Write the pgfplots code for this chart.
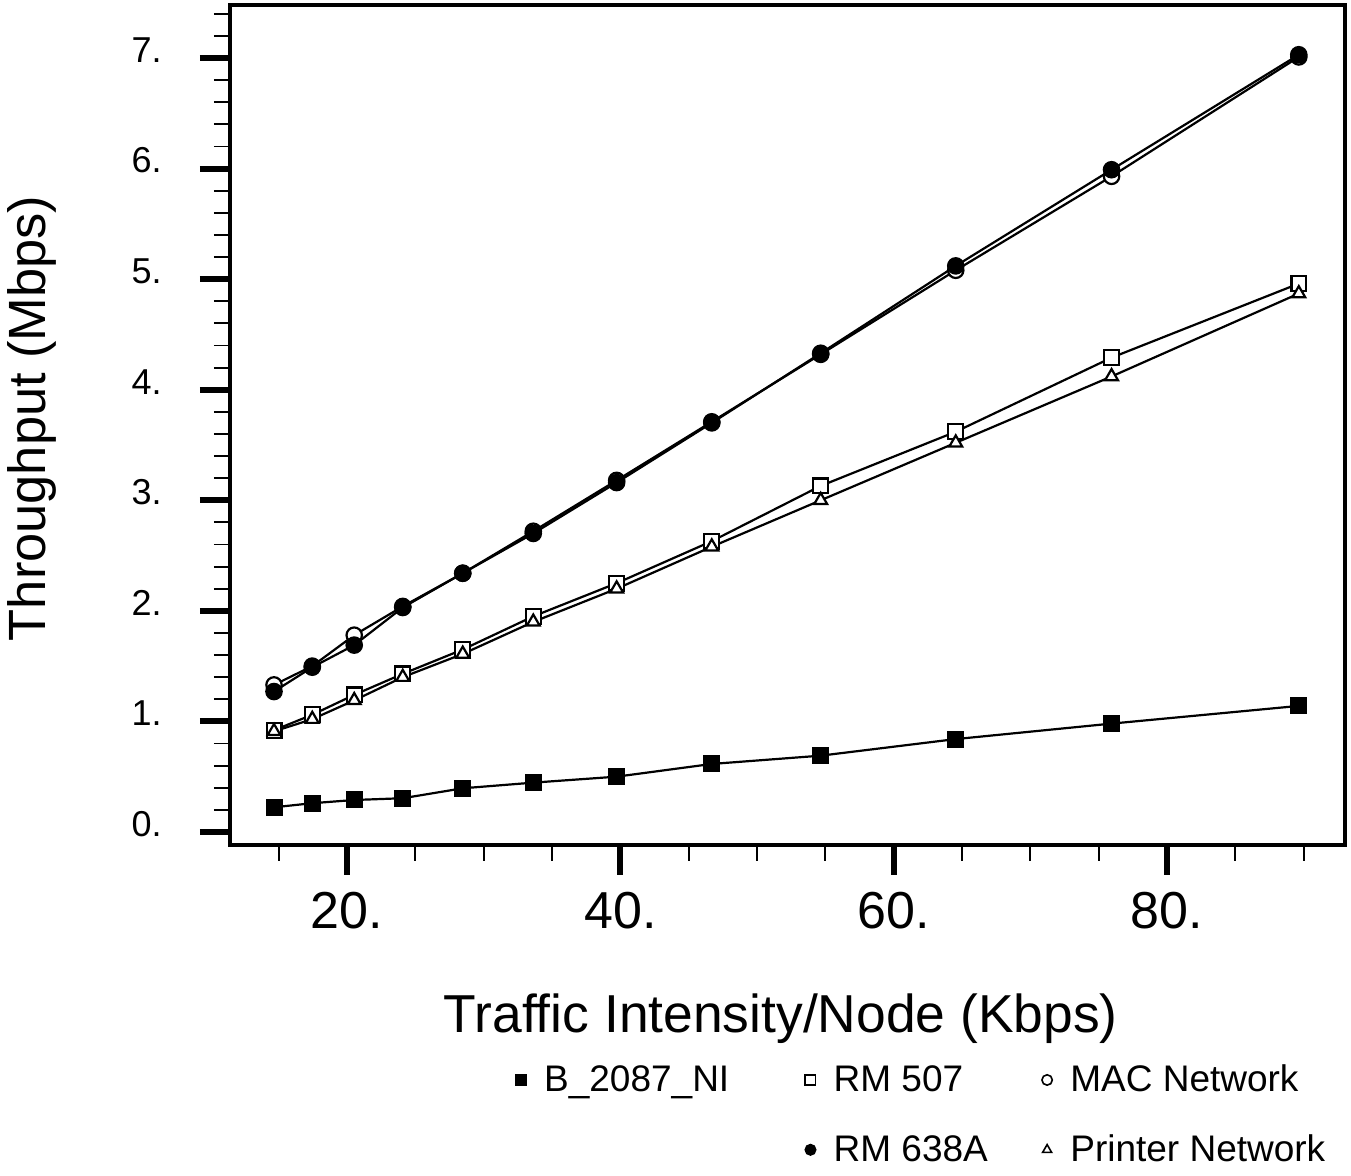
\documentclass[border=0pt]{standalone}
\usepackage{fontspec}
\setmainfont{Liberation Sans}
\usepackage{pgfplots}
\pgfplotsset{compat=1.18}

% Throughput measured at each node versus offered traffic intensity
\pgfplotstableread{
x      y
14.66  0.223
17.46  0.260
20.53  0.289
24.08  0.305
28.47  0.395
33.63  0.446
39.73  0.500
46.69  0.615
54.66  0.690
64.54  0.840
75.94  0.980
89.64  1.140
}\tblB

\pgfplotstableread{
x      y
14.66  0.92
17.46  1.06
20.53  1.24
24.08  1.43
28.47  1.65
33.63  1.95
39.73  2.25
46.69  2.63
54.66  3.13
64.54  3.62
75.94  4.29
89.64  4.96
}\tblRMfive

\pgfplotstableread{
x      y
14.66  1.33
17.46  1.50
20.53  1.78
24.08  2.04
28.47  2.34
33.63  2.72
39.73  3.18
46.69  3.71
54.66  4.32
64.54  5.08
75.94  5.93
89.64  7.01
}\tblMAC

\pgfplotstableread{
x      y
14.66  1.27
17.46  1.49
20.53  1.69
24.08  2.03
28.47  2.34
33.63  2.70
39.73  3.16
46.69  3.70
54.66  4.33
64.54  5.12
75.94  5.99
89.64  7.03
}\tblRMsix

\pgfplotstableread{
x      y
14.66  0.91
17.46  1.02
20.53  1.19
24.08  1.40
28.47  1.61
33.63  1.90
39.73  2.20
46.69  2.58
54.66  3.00
64.54  3.52
75.94  4.12
89.64  4.87
}\tblPrinter

\begin{document}
\begin{tikzpicture}
\useasboundingbox (-115pt,-165.5pt) rectangle (560.5pt,422.5pt);
\begin{axis}[
  at={(0pt,0pt)}, anchor=south west,
  scale only axis,
  width=557.5pt, height=420pt,
  xmin=11.44, xmax=93.02,
  ymin=-0.118, ymax=7.48,
  axis line style={line width=1.6pt},
  tick align=outside,
  xtick pos=bottom, ytick pos=left,
  xtick={20,40,60,80},
  xticklabels={20.,40.,60.,80.},
  minor xtick={15,25,30,35,45,50,55,65,70,75,85,90},
  ytick={0,1,2,3,4,5,6,7},
  yticklabels={0.,1.,2.,3.,4.,5.,6.,7.},
  minor ytick={0.2,0.4,0.6,0.8,1.2,1.4,1.6,1.8,2.2,2.4,2.6,2.8,3.2,3.4,3.6,3.8,4.2,4.4,4.6,4.8,5.2,5.4,5.6,5.8,6.2,6.4,6.6,6.8,7.2,7.4},
  major tick length=15pt,
  minor tick length=8pt,
  major tick style={line width=3pt, draw=black},
  minor tick style={line width=0.9pt, draw=black},
  xticklabel style={font=\fontsize{26}{30}\selectfont, inner sep=0pt, anchor=north, yshift=-8.5pt},
  yticklabel style={font=\fontsize{18}{20}\selectfont, inner sep=0pt, anchor=east, xshift=-19pt, yshift=4pt},
  xlabel={Traffic Intensity/Node (Kbps)},
  ylabel={Throughput (Mbps)},
  xlabel style={font=\fontsize{26.7}{30}\selectfont, at={(axis description cs:0.494,-0.2238)}, anchor=base},
  ylabel style={font=\fontsize{26.2}{30}\selectfont, at={(axis description cs:-0.1776,0.508)}, anchor=center},
  every axis plot/.append style={line width=1.1pt, black, mark options={line width=1pt, solid}},
  legend columns=3,
  legend cell align=left,
  legend style={draw=none, fill=none, at={(axis description cs:0.245,-0.252)}, anchor=north west,
    font=\fontsize{18.5}{20}\selectfont, row sep=16pt,
    /tikz/every odd column/.append style={column sep=7pt},
    /tikz/column 2/.append style={column sep=36pt},
    /tikz/column 4/.append style={column sep=25pt}},
  legend image code/.code={\draw[#1, mark size=2.6pt, line width=0.8pt] plot coordinates {(0.2cm,0cm)};},
]
% open squares first, triangles drawn over them
\addplot[mark=square*, mark size=3.7pt, mark options={fill=white}, forget plot] table {\tblRMfive};
\addplot[mark=triangle*, mark size=3.7pt, mark options={fill=white}, forget plot] table {\tblPrinter};
\addplot[mark=square*, mark size=3.7pt, mark options={fill=black}, forget plot] table {\tblB};
\addplot[mark=*, mark size=3.85pt, mark options={fill=white}, forget plot] table {\tblMAC};
\addplot[mark=*, mark size=3.85pt, mark options={fill=black}, forget plot] table {\tblRMsix};

\addlegendimage{mark=square*, mark options={fill=black}}
\addlegendentry{B\_2087\_NI}
\addlegendimage{mark=square*, mark options={fill=white}}
\addlegendentry{RM 507}
\addlegendimage{mark=*, mark options={fill=white}}
\addlegendentry{MAC Network}
\addlegendimage{empty legend}
\addlegendentry{}
\addlegendimage{mark=*, mark options={fill=black}}
\addlegendentry{RM 638A}
\addlegendimage{mark=triangle*, mark options={fill=white}}
\addlegendentry{Printer Network}
\end{axis}
\end{tikzpicture}
\end{document}
